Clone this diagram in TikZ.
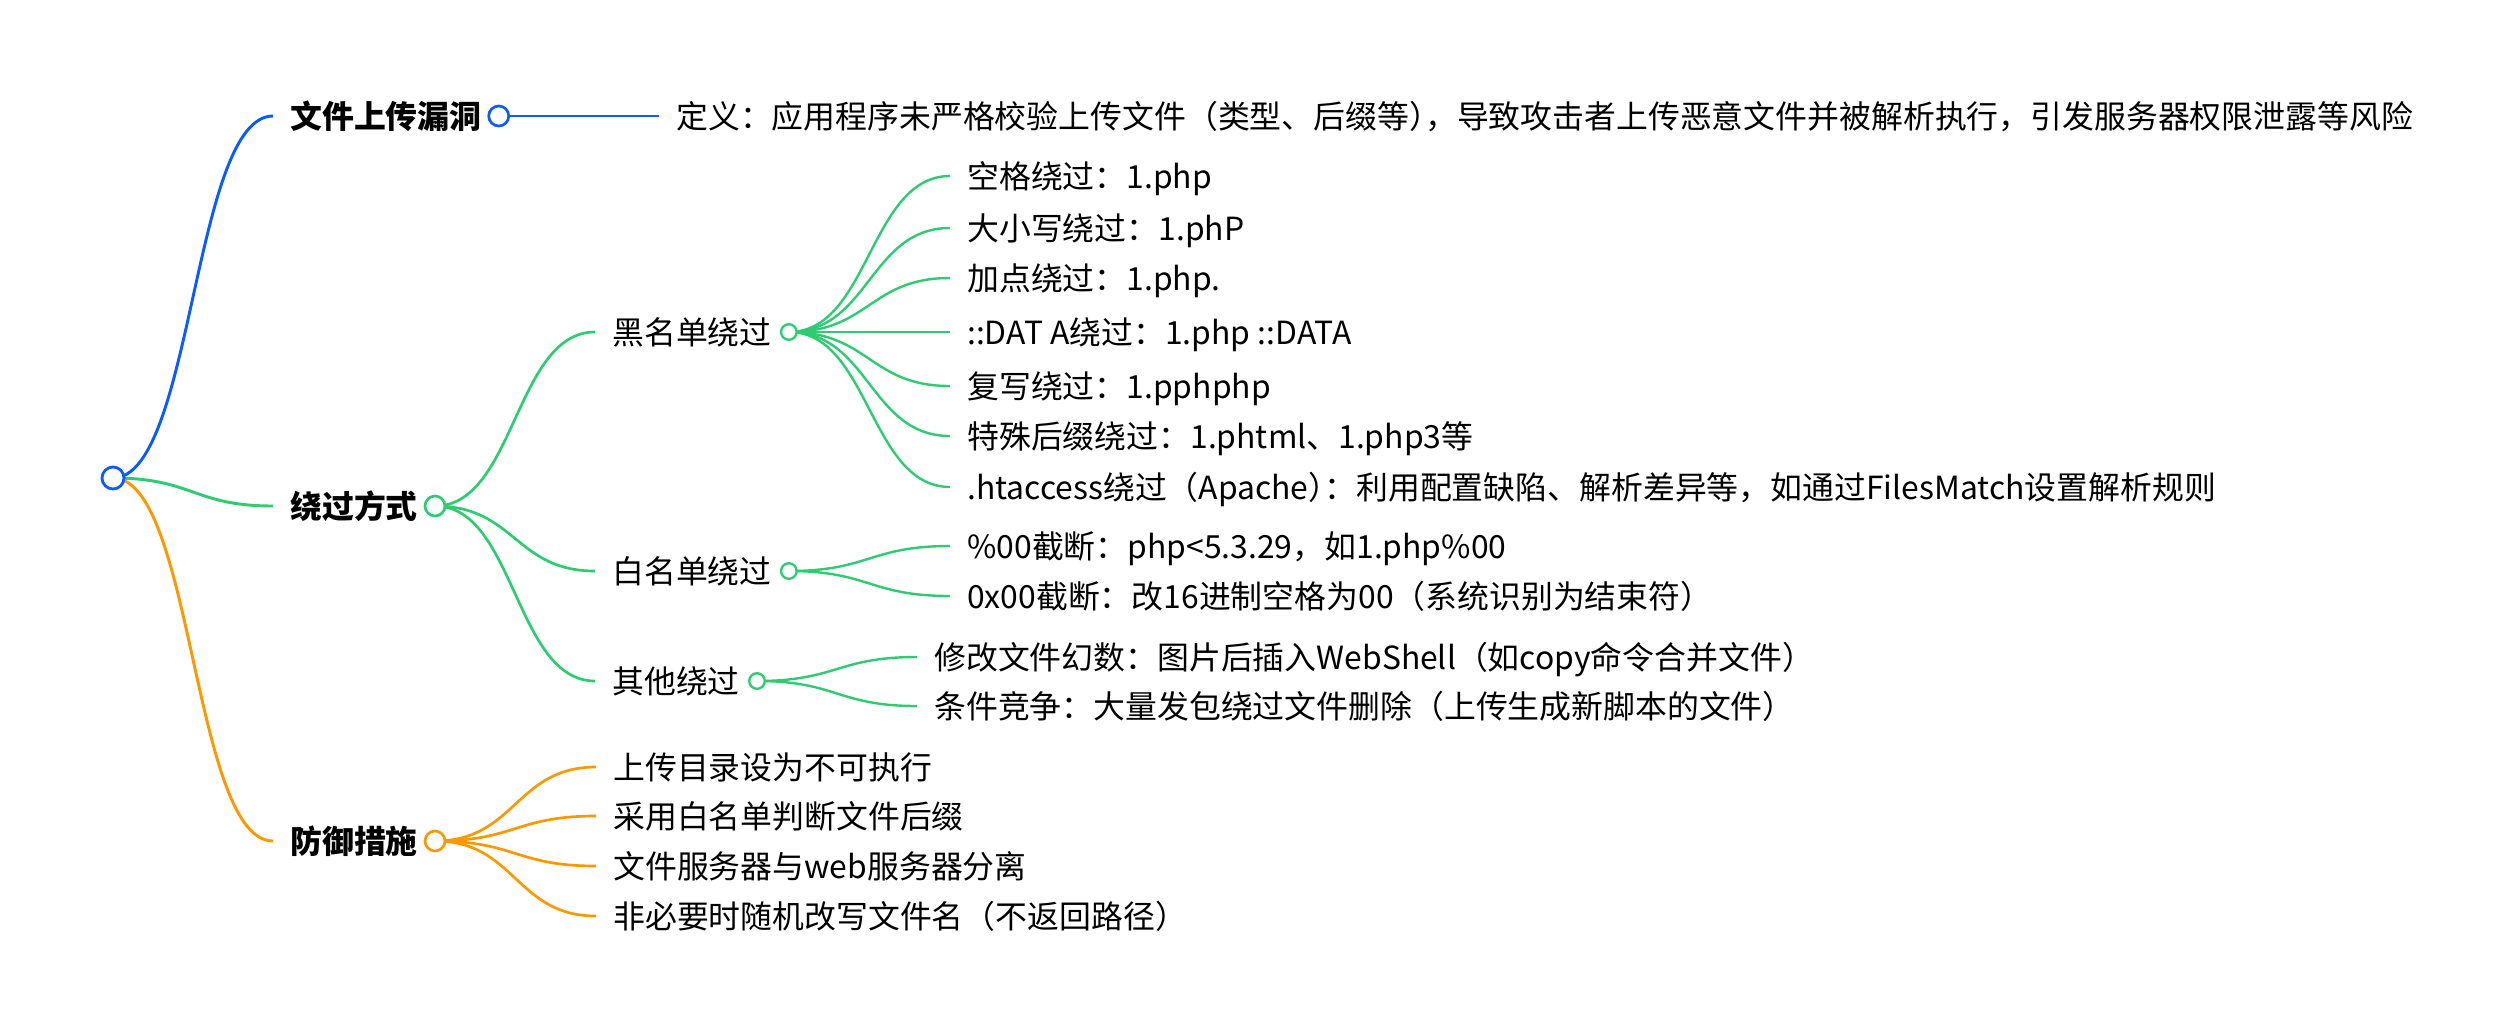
\documentclass[tikz,border=0pt]{standalone}
\usepackage{fontspec}
\setmainfont{Noto Sans CJK SC}
\usetikzlibrary{calc}
\pgfdeclarelayer{bg}
\pgfsetlayers{bg,main}
\definecolor{mmblue}{HTML}{0A5CFF}
\definecolor{mmgreen}{HTML}{2ECC71}
\definecolor{mmorange}{HTML}{FF9800}
\newcommand\pk{\kern-0.5em}
\newcommand\mmlink[3]{\draw[#1] let \p1=(#2.center), \p2=(#3.west) in (\p1) .. controls ({(\x1+\x2)/2},\y1) and ({(\x1+\x2)/2},\y2) .. (\p2);}
\tikzset{
  lbl/.style={anchor=west, inner xsep=12.75pt, inner ysep=0pt, text height=21pt, text depth=2.87pt,
    font=\fontsize{23.9pt}{28pt}\selectfont, text=black},
  lblb/.style={lbl, font=\fontsize{23.9pt}{28pt}\selectfont\bfseries},
  mmdot/.style={circle, draw=#1, fill=white, line width=1.75pt, minimum size=11.7pt, inner sep=0pt},
  topdot/.style={mmdot=#1, line width=2pt, minimum size=15pt},
  rootdot/.style={mmdot=mmblue, line width=2.1pt, minimum size=16.5pt},
  lk/.style={draw=#1, line width=2.2pt},
  lkm/.style={draw=#1, line width=2pt},
  lkt/.style={draw=#1, line width=1.8pt},
}
\begin{document}
\begin{tikzpicture}[x=0.75pt,y=-0.75pt]
\useasboundingbox (0,0) rectangle (2518,1032);
% root
\node[rootdot] (root) at (113,478) {};
% level 1
\node[lblb] (t1) at (273,116) {文件上传漏洞};
\node[topdot=mmblue] (c1) at (t1.east) {};
\node[lbl] (def) at (659,116) {定义：应用程序未严格校验上传文件（类型、后缀等）\pk，导致攻击者上传恶意文件并被解析执行，引发服务器权限泄露等风险};
\node[lblb] (t2) at (273,506) {绕过方式};
\node[topdot=mmgreen] (c2) at (t2.east) {};
\node[lblb] (t3) at (273,841) {防御措施};
\node[topdot=mmorange] (c3) at (t3.east) {};
% level 2
\node[lbl] (b1) at (595,332) {黑名单绕过};
\node[mmdot=mmgreen] (cb1) at (b1.east) {};
\node[lbl] (b2) at (595,571) {白名单绕过};
\node[mmdot=mmgreen] (cb2) at (b2.east) {};
\node[lbl] (b3) at (595,681) {其他绕过};
\node[mmdot=mmgreen] (cb3) at (b3.east) {};
% blacklist children
\node[lbl] (k1) at (950,176) {空格绕过：1.php};
\node[lbl] (k2) at (950,228) {大小写绕过：1.phP};
\node[lbl] (k3) at (950,278) {加点绕过：1.php.};
\node[lbl] (k4) at (950,332) {::DAT A绕过：1.php ::DATA};
\node[lbl] (k5) at (950,386) {复写绕过：1.pphphp};
\node[lbl] (k6) at (950,436) {特殊后缀绕过：1.phtml、1.php3等};
\node[lbl] (k7) at (950,487) {.htaccess绕过（Apache）\pk：利用配置缺陷、解析差异等，如通过FilesMatch设置解析规则};
% whitelist children
\node[lbl] (w1) at (950,546) {\%00截断：php<5.3.29，如1.php\%00};
\node[lbl] (w2) at (950,596) {0x00截断：改16进制空格为00（系统识别为结束符）};
% other children
\node[lbl] (o1) at (917,657) {修改文件幻数：图片后插入WebShell（如copy命令合并文件）};
\node[lbl] (o2) at (917,706) {条件竞争：大量发包绕过文件删除（上传生成新脚本的文件）};
% defence children
\node[lbl] (d1) at (596,767) {上传目录设为不可执行};
\node[lbl] (d2) at (596,816) {采用白名单判断文件后缀};
\node[lbl] (d3) at (596,866) {文件服务器与web服务器分离};
\node[lbl] (d4) at (596,916) {非必要时随机改写文件名（不返回路径）};
\begin{pgfonlayer}{bg}
\mmlink{lk=mmblue}{root}{t1}
\mmlink{lk=mmgreen}{root}{t2}
\mmlink{lk=mmorange}{root}{t3}
\mmlink{lk=mmblue}{c1}{def}
\mmlink{lkm=mmgreen}{c2}{b1}
\mmlink{lkm=mmgreen}{c2}{b2}
\mmlink{lkm=mmgreen}{c2}{b3}
\foreach \kk in {k1,k2,k3,k4,k5,k6,k7}{\mmlink{lkt=mmgreen}{cb1}{\kk}}
\foreach \kk in {w1,w2}{\mmlink{lkt=mmgreen}{cb2}{\kk}}
\foreach \kk in {o1,o2}{\mmlink{lkt=mmgreen}{cb3}{\kk}}
\foreach \kk in {d1,d2,d3,d4}{\mmlink{lkm=mmorange}{c3}{\kk}}
\end{pgfonlayer}
\end{tikzpicture}
\end{document}
